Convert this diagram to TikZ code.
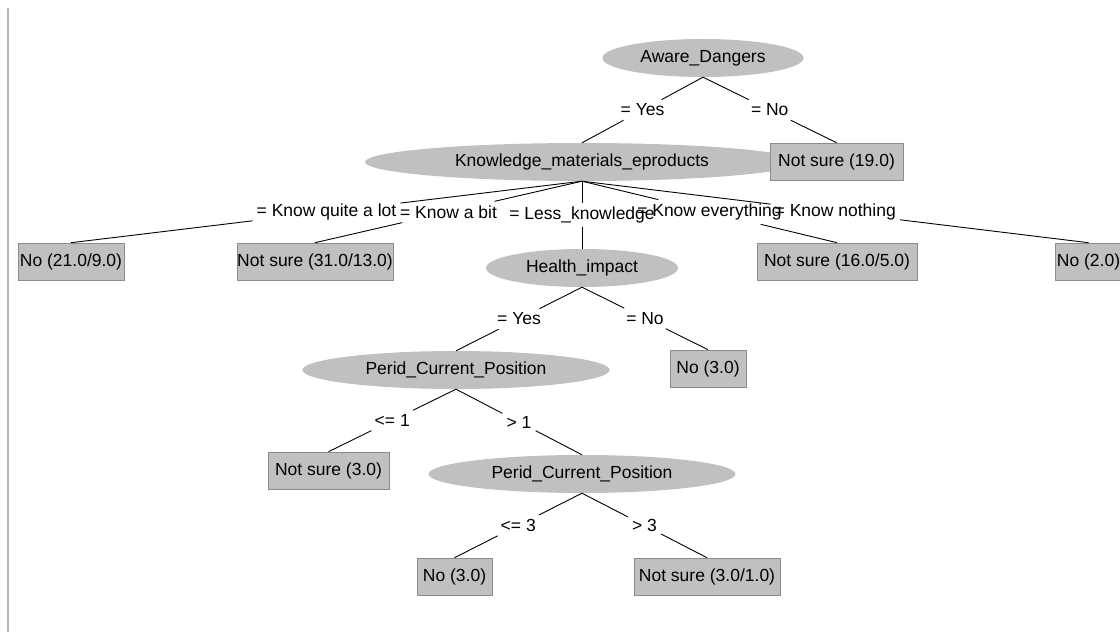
\documentclass[tikz,border=0pt]{standalone}
\usepackage{fontspec}
\setmainfont{Liberation Sans}
\usetikzlibrary{shapes.geometric,calc}

\definecolor{wgray}{HTML}{C0C0C0}
\definecolor{wdark}{HTML}{8C8C8C}
\definecolor{wframe}{HTML}{B4B4B4}

\begin{document}
\begin{tikzpicture}[x=1pt, y=-1pt,
    every node/.style={font=\fontsize{17.5}{19}\selectfont},
    attr/.style={ellipse, fill=wgray, inner sep=0pt, minimum height=38pt},
    leaf/.style={rectangle, fill=wgray, draw=wdark, line width=0.6pt, inner sep=0pt, minimum height=37pt},
    cond/.style={inner sep=4pt},
    branch/.style={line width=0.9pt}]

    \useasboundingbox (0,0) rectangle (1120,639);
    \clip (0,0) rectangle (1120,639);

    % left edge of the panel
    \draw[wframe, line width=1.5pt] (8,8) -- (8,632);

    % attribute nodes
    \node[attr, minimum width=201pt] (aware) at (703,58) {Aware\_Dangers};
    \node[attr, minimum width=434pt] (know) at (582,162) {Knowledge\_materials\_eproducts};
    \node[attr, minimum width=192pt] (health) at (582,268) {Health\_impact};
    \node[attr, minimum width=307pt] (perid1) at (456,370) {Perid\_Current\_Position};
    \node[attr, minimum width=307pt] (perid2) at (582,474) {Perid\_Current\_Position};

    % leaves
    \node[leaf, minimum width=133pt] (ns19) at (836.5,161.5) {Not sure (19.0)};
    \node[leaf, minimum width=106pt] (no21) at (71,261.5) {No (21.0/9.0)};
    \node[leaf, minimum width=148pt] (ns31) at (315,261.5) {Not sure (31.0/13.0)};
    \node[leaf, minimum width=160pt] (ns16) at (837,261.5) {Not sure (16.0/5.0)};
    \node[leaf, minimum width=66pt] (no2) at (1088.5,261.5) {No (2.0)};
    \node[leaf, minimum width=76pt] (noH) at (708,368.5) {No (3.0)};
    \node[leaf, minimum width=121pt] (ns3) at (328.5,470.5) {Not sure (3.0)};
    \node[leaf, minimum width=75pt] (no3) at (454.5,576.5) {No (3.0)};
    \node[leaf, minimum width=146pt] (ns3b) at (707,576.5) {Not sure (3.0/1.0)};

    % Aware_Dangers
    \node[cond] (c1) at ($(aware.south)!.5!(know.north)$) {= Yes};
    \node[cond] (c2) at ($(aware.south)!.5!(ns19.north)$) {= No};
    \draw[branch] (aware.south) -- (c1) -- (know.north);
    \draw[branch] (aware.south) -- (c2) -- (ns19.north);

    % Knowledge_materials_eproducts
    \node[cond] (c3) at ($(know.south)!.5!(no21.north)$) {= Know quite a lot};
    \node[cond] (c4) at ($(know.south)!.5!(ns31.north)$) {= Know a bit};
    \node[cond] (c5) at ($(know.south)!.5!(health.north)$) {= Less\_knowledge};
    \node[cond] (c6) at ($(know.south)!.5!(ns16.north)$) {= Know everything};
    \node[cond] (c7) at ($(know.south)!.5!(no2.north)$) {= Know nothing};
    \draw[branch] (know.south) -- (c3) -- (no21.north);
    \draw[branch] (know.south) -- (c4) -- (ns31.north);
    \draw[branch] (know.south) -- (c5) -- (health.north);
    \draw[branch] (know.south) -- (c6) -- (ns16.north);
    \draw[branch] (know.south) -- (c7) -- (no2.north);

    % Health_impact
    \node[cond] (c8) at ($(health.south)!.5!(perid1.north)$) {= Yes};
    \node[cond] (c9) at ($(health.south)!.5!(noH.north)$) {= No};
    \draw[branch] (health.south) -- (c8) -- (perid1.north);
    \draw[branch] (health.south) -- (c9) -- (noH.north);

    % Perid_Current_Position
    \node[cond] (c10) at ($(perid1.south)!.5!(ns3.north)$) {<= 1};
    \node[cond] (c11) at ($(perid1.south)!.5!(perid2.north)$) {> 1};
    \draw[branch] (perid1.south) -- (c10) -- (ns3.north);
    \draw[branch] (perid1.south) -- (c11) -- (perid2.north);

    \node[cond] (c12) at ($(perid2.south)!.5!(no3.north)$) {<= 3};
    \node[cond] (c13) at ($(perid2.south)!.5!(ns3b.north)$) {> 3};
    \draw[branch] (perid2.south) -- (c12) -- (no3.north);
    \draw[branch] (perid2.south) -- (c13) -- (ns3b.north);

\end{tikzpicture}
\end{document}
